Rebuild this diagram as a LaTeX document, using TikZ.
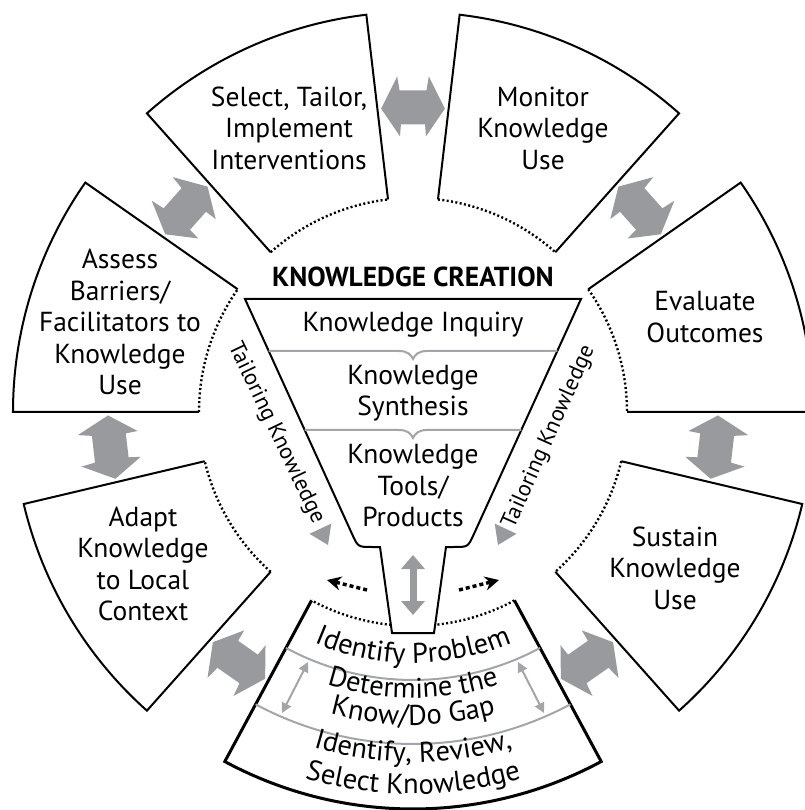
\documentclass[tikz,border=0pt]{standalone}
\usepackage{fontspec}
\setmainfont{PT Sans}
\usepackage{tikz}
\usetikzlibrary{arrows.meta}
\usetikzlibrary{decorations.text}
\usepackage{xcolor}
\definecolor{arrowgray}{RGB}{152,154,157}
\definecolor{linegray}{RGB}{163,165,168}
\newcommand{\boxfont}{\fontsize{27.5}{31.5}\selectfont}
\newcommand{\bandfont}{\fontsize{28.5}{30}\selectfont}
\tikzset{
  sector/.style={line width=2pt},
  dotarc/.style={line width=2.4pt, dash pattern=on 2pt off 2.4pt},
  boxtext/.style={align=center, font=\boxfont, inner sep=0pt},
  tailtext/.style={font=\fontsize{22.5}{26}\selectfont, inner sep=0pt},
  bigarrow/.style={fill=arrowgray},
  grayline/.style={linegray, line width=2pt},
  dasharrow/.style={line width=3.5pt, dash pattern=on 4pt off 3pt, -{Stealth[length=14pt,width=14pt]}},
  bandtext/.style={decorate, decoration={text along path, text align=center, text={#1}}}
}

\begin{document}
\begin{tikzpicture}[x=1pt,y=1pt]
\useasboundingbox (-413,-398) rectangle (391,412);
% the six outer steps
\foreach \a/\b in {48.3/83.3, 96.7/131.7, 145/180, 193.3/228.3, 311.7/346.7, 0/35} {
  \draw [sector] (\a:214) -- (\a:400) arc[start angle=\a, end angle=\b, radius=400] -- (\b:214);
  \draw [dotarc] (\b:214) arc[start angle=\b, end angle=\a, radius=214];
}
% bottom step
\draw [sector, line width=3pt] (241.7:214) -- (241.7:397) arc[start angle=241.7, end angle=298.3, radius=397] -- (298.3:214);
\draw [dotarc] (298.3:214) arc[start angle=298.3, end angle=241.7, radius=214];
\draw [grayline] (241.7:268) arc[start angle=241.7, end angle=298.3, radius=268];
\draw [grayline] (241.7:332) arc[start angle=241.7, end angle=298.3, radius=332];

% arrows between the steps
\foreach \g in {41.65, 90, 138.35, 186.65, 235, 305, 353.35} {
  \path [bigarrow] (\g-6:305) -- (\g-2.7:336) -- (\g-2.4:322) -- (\g+2.4:322) -- (\g+2.7:336) -- (\g+6:305)
    -- (\g+2.7:276) -- (\g+2.4:288) -- (\g-2.4:288) -- (\g-2.7:276) -- cycle;
}

% funnel
\draw [line width=2pt, fill=white] (-168,113) -- (168,113) -- (60.8,-122.3) .. controls (55,-135) .. (41,-135) -- (33,-135)
  -- (21,-221) -- (-21,-221) -- (-33,-135) -- (-41,-135) .. controls (-55,-135) .. (-60.8,-122.3) -- cycle;
\draw [grayline] (-144.3,61) -- (-14,61) .. controls (-5,61) and (-2,57) .. (0,53) .. controls (2,57) and (5,61) .. (14,61) -- (144.3,61);
\draw [grayline] (-108.3,-18) -- (-14,-18) .. controls (-5,-18) and (-2,-22) .. (0,-26) .. controls (2,-22) and (5,-18) .. (14,-18) -- (108.3,-18);

\node [font=\fontsize{27.5}{30}\selectfont\bfseries, inner sep=0pt] (creation) at (0,135) {KNOWLEDGE CREATION};
\node [boxtext] (inquiry) at (0,87) {Knowledge Inquiry};
\node [boxtext] (synthesis) at (0,19) {Knowledge\\Synthesis};
\node [boxtext] (tools) at (0,-74) {Knowledge\\Tools/\\Products};

\node [tailtext, rotate=-64.4] (ltailor) at (-137,-21) {Tailoring Knowledge};
\node [tailtext, rotate=66] (rtailor) at (136,-25) {Tailoring Knowledge};
\path [fill=arrowgray] (-85,-133) -- (-81.7,-111.6) -- (-103.5,-121.8) -- cycle;
\path [fill=arrowgray] (85,-133) -- (81.7,-111.6) -- (103.5,-121.8) -- cycle;

\coordinate (lfrom) at (-46,-178);
\coordinate (lto) at (-86,-168);
\coordinate (rfrom) at (46,-178);
\coordinate (rto) at (86,-168);
\draw [dasharrow] (lfrom) -- (lto);
\draw [dasharrow] (rfrom) -- (rto);

\coordinate (necktop) at (0,-143);
\coordinate (neckbot) at (0,-203);
\draw [arrowgray, line width=7pt, {Triangle[width=23pt,length=14pt]}-{Triangle[width=23pt,length=14pt]}] (necktop) -- (neckbot);

\coordinate (gapla) at (-105,-250);
\coordinate (gaplb) at (-131,-301);
\coordinate (gapra) at (105,-250);
\coordinate (gaprb) at (131,-301);
\draw [linegray, line width=2pt, {Triangle[width=10pt,length=10pt]}-{Triangle[width=10pt,length=10pt]}] (gapla) -- (gaplb);
\draw [linegray, line width=2pt, {Triangle[width=10pt,length=10pt]}-{Triangle[width=10pt,length=10pt]}] (gapra) -- (gaprb);

% step texts
\node [boxtext] (select) at (-124,284) {Select, Tailor,\\Implement\\Interventions};
\node [boxtext] (monitor) at (130,284) {Monitor\\Knowledge\\Use};
\node [boxtext] (assess) at (-293,90) {Assess\\Barriers/\\Facilitators to\\Knowledge\\Use};
\node [boxtext] (evaluate) at (292,95) {Evaluate\\Outcomes};
\node [boxtext] (adapt) at (-270,-152) {Adapt\\Knowledge\\to Local\\Context};
\node [boxtext] (sustain) at (262,-156) {Sustain\\Knowledge\\Use};

\path [bandtext={|\bandfont|Identify Problem}] (225:251) arc[start angle=225, end angle=315, radius=251];
\path [bandtext={|\bandfont|Determine the}] (225:286) arc[start angle=225, end angle=315, radius=286];
\path [bandtext={|\bandfont|Know/Do Gap}] (225:313) arc[start angle=225, end angle=315, radius=313];
\path [bandtext={|\bandfont|Identify, Review,}] (225:350) arc[start angle=225, end angle=315, radius=350];
\path [bandtext={|\bandfont|Select Knowledge}] (225:382) arc[start angle=225, end angle=315, radius=382];
%\draw [red] (0,0) circle (214);
\end{tikzpicture}
\end{document}
